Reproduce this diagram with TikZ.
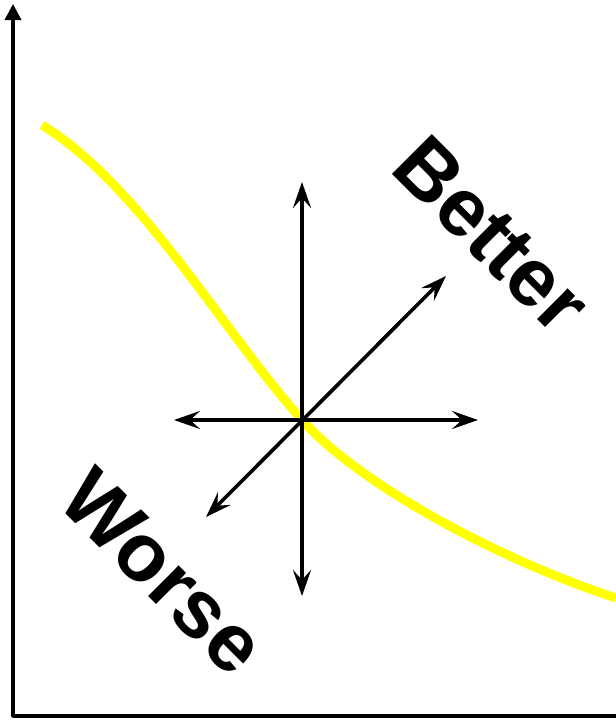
\documentclass[tikz,border=0pt]{standalone}
\usepackage{fontspec}
\setmainfont{Liberation Sans}
\usetikzlibrary{arrows.meta, calc, positioning}
\definecolor{ink}{HTML}{000000}
\definecolor{wyellow}{HTML}{FFFF00}
\tikzset{el/.style={line cap=round, line join=round},
  axisline/.style={ink,line width=3.5pt,-{Triangle[length=16pt,width=16pt]}},
  dirarrow/.style={ink,line width=3.6pt,{Stealth[length=26pt,width=18pt,inset=10pt]}-{Stealth[length=26pt,width=18pt,inset=10pt]}},
  tag/.style={ink,font=\bfseries\fontsize{82}{98}\selectfont,rotate=-45,anchor=base west,inner sep=0pt}}
\begin{document}
\begin{tikzpicture}[el,x=1pt,y=-1pt]
  \useasboundingbox (0,0) rectangle (616,726);
  % axes
  \coordinate (o) at (13,716);\coordinate (ytop) at (13,4);\coordinate (xend) at (616,716);
  \draw[ink,line width=3.5pt,line cap=butt] (xend)--(o);
  \draw[axisline] (o)--(ytop);
  % trade-off curve
  \coordinate (c) at (302,420);
  \draw[wyellow,line width=9pt,line cap=butt] (42,125) .. controls (140,185) and (222,330) .. (c)
     .. controls (360,485) and (500,560) .. (616,598);
  % directions
  \coordinate (n) at (302,182);\coordinate (s) at (302,596);
  \coordinate (w) at (174,420);\coordinate (e) at (478,420);
  \coordinate (ne) at (446,276);\coordinate (sw) at (206,517);
  \foreach \a/\b in {n/s,w/e,ne/sw}{\draw[dirarrow] (\a)--(\b);}
  \node[tag] (better) at (388,170) {Better};
  \node[tag] (worse) at (55,503) {Worse};
\end{tikzpicture}
\end{document}
